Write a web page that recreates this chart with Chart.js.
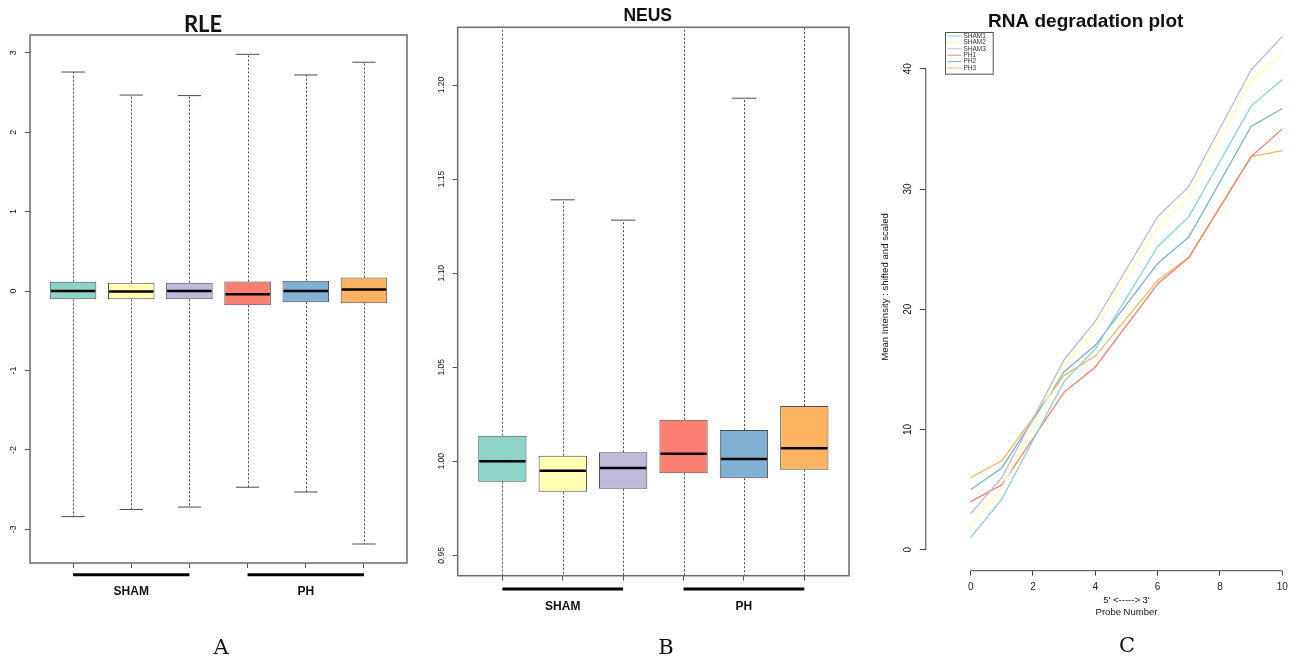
<!DOCTYPE html>
<html>
<head>
<meta charset="utf-8">
<title>RLE / NEUS / RNA degradation plot</title>
<script src="https://cdn.jsdelivr.net/npm/chart.js@4.4.0/dist/chart.umd.min.js"></script>
<style>
  body { margin: 0; background: #fff; }
  #wrap { position: relative; width: 1298px; height: 661px; overflow: hidden; background: #fff; }
  #wrap canvas { position: absolute; top: 0; }
</style>
</head>
<body>
<div id="wrap">
  <canvas id="rleChart" width="430" height="661" style="left:0"></canvas>
  <canvas id="neusChart" width="430" height="661" style="left:430px"></canvas>
  <canvas id="degChart" width="438" height="661" style="left:860px"></canvas>
</div>
<script>
// ---- data ----
const samples = ['SHAM1', 'SHAM2', 'SHAM3', 'PH1', 'PH2', 'PH3'];
const samplePos = [1, 2, 3, 4, 5, 6];
const sampleColors = ['#8DD3C7', '#FFFFB3', '#BEBADA', '#FB8072', '#80B1D3', '#FDB462'];
const groups = ['SHAM', 'PH'];
const groupSpans = [[1, 3], [4, 6]];

// RLE boxplot
const rleMin = [-2.84, -2.75, -2.72, -2.47, -2.53, -3.185];
const rleQ1 = [-0.105, -0.105, -0.105, -0.18, -0.14, -0.155];
const rleMed = [0.0, -0.005, 0.0, -0.04, 0.0, 0.02];
const rleQ3 = [0.117, 0.105, 0.105, 0.12, 0.13, 0.17];
const rleMax = [2.757, 2.467, 2.46, 2.98, 2.72, 2.88];
const rleTicks = [-3, -2, -1, 0, 1, 2, 3];
const rleTickLabels = ['-3', '-2', '-1', '0', '1', '2', '3'];

// NEUS boxplot (some whiskers run off the plot)
const neusMin = [0.93, 0.925, 0.928, 0.932, 0.93, 0.935];
const neusQ1 = [0.9892, 0.9838, 0.9854, 0.9936, 0.991, 0.9955];
const neusMed = [1.0, 0.995, 0.9964, 1.004, 1.0012, 1.007];
const neusQ3 = [1.0136, 1.003, 1.0048, 1.0221, 1.0166, 1.0294];
const neusMax = [1.24, 1.139, 1.1282, 1.25, 1.193, 1.26];
const neusTicks = [0.95, 1.0, 1.05, 1.1, 1.15, 1.2];
const neusTickLabels = ['0.95', '1.00', '1.05', '1.10', '1.15', '1.20'];

// RNA degradation
const probeNumber = [0, 1, 3, 4, 6, 7, 9, 10];
const sham1Deg = [1.0, 4.2, 14.0, 16.7, 25.2, 27.7, 36.9, 39.1];
const sham2Deg = [2.0, 5.2, 15.3, 18.4, 26.8, 29.3, 39.0, 41.3];
const sham3Deg = [3.0, 6.0, 15.8, 19.0, 27.7, 30.2, 39.9, 42.7];
const ph1Deg = [4.0, 5.4, 13.1, 15.2, 22.1, 24.3, 32.7, 35.0];
const ph2Deg = [5.0, 6.8, 14.8, 17.0, 23.8, 26.0, 35.2, 36.7];
const ph3Deg = [6.0, 7.4, 14.5, 16.1, 22.4, 24.3, 32.7, 33.2];
const degXTicks = [0, 2, 4, 6, 8, 10];
const degXTickLabels = ['0', '2', '4', '6', '8', '10'];
const degYTicks = [0, 10, 20, 30, 40];
const degYTickLabels = ['0', '10', '20', '30', '40'];

// ---- helpers ----
const SANS = '"Liberation Sans", Arial, Helvetica, sans-serif';
const SERIF = '"DejaVu Serif", "Liberation Serif", serif';
Chart.defaults.font.family = SANS;
Chart.defaults.color = '#222';

function strokeLine(ctx, x1, y1, x2, y2) {
    ctx.beginPath();
    ctx.moveTo(x1, y1);
    ctx.lineTo(x2, y2);
    ctx.stroke();
}

function putText(ctx, text, x, y, font, rotate) {
    ctx.save();
    ctx.font = font;
    ctx.fillStyle = '#111';
    ctx.textAlign = 'center';
    ctx.textBaseline = rotate ? 'middle' : 'alphabetic';
    ctx.translate(x, y);
    if (rotate) ctx.rotate(-Math.PI / 2);
    ctx.fillText(text, 0, 0);
    ctx.restore();
}

// R style y labels, turned parallel to the axis
function drawYTickLabels(chart, labels, xPos, font) {
    const y = chart.scales.y;
    y.ticks.forEach((t, i) => putText(chart.ctx, labels[i], xPos, y.getPixelForValue(t.value), font, true));
}

function fixedTicks(values) {
    return axis => { axis.ticks = values.map(v => ({value: v})); };
}

// free text: titles, panel letters, axis titles
const panelText = {
    id: 'panelText',
    afterDraw(chart, args, o) {
        (o.items || []).forEach(it => putText(chart.ctx, it.text, it.x, it.y, it.font, it.rotate));
    }
};

// whiskers, caps, medians, frame and group bars for the boxplots
const boxplotParts = {
    id: 'boxplotParts',
    afterDatasetsDraw(chart, args, o) {
        if (!o.max) return;
        const {ctx, chartArea: a, scales: {x, y}} = chart;
        const bars = chart.getDatasetMeta(0).data;

        ctx.save();
        ctx.beginPath();
        ctx.rect(a.left, a.top, a.right - a.left, a.bottom - a.top);
        ctx.clip();
        bars.forEach((bar, i) => {
            const cx = Math.round(bar.x) + 0.5;
            const yHi = y.getPixelForValue(o.max[i]);
            const yLo = y.getPixelForValue(o.min[i]);
            const yQ3 = y.getPixelForValue(o.q3[i]);
            const yQ1 = y.getPixelForValue(o.q1[i]);
            ctx.strokeStyle = '#4d4d4d';
            ctx.lineWidth = 1;
            ctx.setLineDash([2, 2]);
            strokeLine(ctx, cx, yQ3, cx, yHi);
            strokeLine(ctx, cx, yQ1, cx, yLo);
            ctx.setLineDash([]);
            const cap = bar.width / 4;
            strokeLine(ctx, bar.x - cap, yHi, bar.x + cap, yHi);
            strokeLine(ctx, bar.x - cap, yLo, bar.x + cap, yLo);
            const ym = y.getPixelForValue(o.med[i]);
            ctx.strokeStyle = '#000';
            ctx.lineWidth = 2.5;
            strokeLine(ctx, bar.x - bar.width / 2 + 1, ym, bar.x + bar.width / 2 - 1, ym);
        });
        ctx.restore();

        ctx.save();
        ctx.strokeStyle = '#6b6b6b';
        ctx.lineWidth = 1.5;
        ctx.strokeRect(a.left, a.top, a.right - a.left, a.bottom - a.top);

        ctx.strokeStyle = '#000';
        ctx.lineWidth = 3;
        groupSpans.forEach((span, g) => {
            const x1 = x.getPixelForValue(span[0]);
            const x2 = x.getPixelForValue(span[1]);
            strokeLine(ctx, x1, o.groupBarY, x2, o.groupBarY);
            putText(ctx, groups[g], (x1 + x2) / 2, o.groupLabelY, 'bold 12px ' + SANS);
        });
        ctx.restore();

        drawYTickLabels(chart, o.tickLabels, o.tickLabelX, o.tickFont);
    }
};

function boxplotConfig(q1, q3, min, med, max, yMin, yMax, ticks, tickLabels, pad, extra) {
    return {
        type: 'bar',
        data: {
            datasets: [{
                data: samplePos.map((p, i) => ({x: p, y: [q1[i], q3[i]]})),
                backgroundColor: sampleColors,
                borderColor: '#4d4d4d',
                borderWidth: 1,
                borderSkipped: false,
                barPercentage: 0.8,
                categoryPercentage: 1
            }]
        },
        options: {
            responsive: false,
            animation: false,
            events: [],
            layout: {padding: pad},
            plugins: {
                legend: {display: false},
                tooltip: {enabled: false},
                boxplotParts: Object.assign({min, med, max, q1, q3, tickLabels}, extra.box),
                panelText: {items: extra.text}
            },
            scales: {
                x: {
                    type: 'linear',
                    min: 0.26,
                    max: 6.74,
                    offset: false,
                    afterBuildTicks: fixedTicks(samplePos),
                    ticks: {display: false},
                    grid: {offset: false, drawOnChartArea: false, tickLength: 5, color: '#555'},
                    border: {display: false},
                    afterFit: s => { s.height = 5; }
                },
                y: {
                    min: yMin,
                    max: yMax,
                    afterBuildTicks: fixedTicks(ticks),
                    ticks: {display: false},
                    grid: {drawOnChartArea: false, tickLength: 5, color: '#555'},
                    border: {display: false},
                    afterFit: s => { s.width = 5; }
                }
            }
        },
        plugins: [boxplotParts, panelText]
    };
}

// A: RLE
new Chart(document.getElementById('rleChart'), boxplotConfig(
    rleQ1, rleQ3, rleMin, rleMed, rleMax, -3.424, 3.223, rleTicks, rleTickLabels,
    {left: 25, right: 23, top: 35, bottom: 93},
    {
        box: {tickLabelX: 14, tickFont: '9px ' + SANS, groupBarY: 574.7, groupLabelY: 595.3},
        text: [
            {text: 'RLE', x: 203, y: 32.3, font: 'bold 22px Lato, "Open Sans", ' + SANS},
            {text: 'A', x: 221, y: 653.5, font: '21px ' + SERIF}
        ]
    }
));

// B: NEUS
new Chart(document.getElementById('neusChart'), boxplotConfig(
    neusQ1, neusQ3, neusMin, neusMed, neusMax, 0.9392, 1.2307, neusTicks, neusTickLabels,
    {left: 22.7, right: 11, top: 27.3, bottom: 80.3},
    {
        box: {tickLabelX: 11.7, tickFont: '8.5px ' + SANS, groupBarY: 589, groupLabelY: 610},
        text: [
            {text: 'NEUS', x: 217.7, y: 20.7, font: 'bold 17.5px ' + SANS},
            {text: 'B', x: 236, y: 653.5, font: '21px ' + SERIF}
        ]
    }
));

// C: RNA degradation plot
const degSeries = [sham1Deg, sham2Deg, sham3Deg, ph1Deg, ph2Deg, ph3Deg];

const degParts = {
    id: 'degParts',
    afterDraw(chart) {
        const {ctx, chartArea: a, scales: {x, y}} = chart;
        ctx.save();
        ctx.strokeStyle = '#444';
        ctx.lineWidth = 1;
        // axis lines only span first to last tick, as R draws them
        strokeLine(ctx, a.left, y.getPixelForValue(degYTicks[0]), a.left, y.getPixelForValue(degYTicks[degYTicks.length - 1]));
        strokeLine(ctx, x.getPixelForValue(degXTicks[0]), a.bottom, x.getPixelForValue(degXTicks[degXTicks.length - 1]), a.bottom);

        // legend box
        const lx = 85, ly = 32, lw = 47.7, lh = 41.7, step = 6.4;
        ctx.fillStyle = '#fff';
        ctx.fillRect(lx, ly, lw, lh);
        ctx.strokeStyle = '#555';
        ctx.strokeRect(lx + 0.5, ly + 0.5, lw, lh);
        ctx.font = '6.5px ' + SANS;
        ctx.textAlign = 'left';
        ctx.textBaseline = 'middle';
        chart.data.datasets.forEach((ds, i) => {
            const yy = ly + 4 + step * i;
            ctx.strokeStyle = ds.borderColor;
            strokeLine(ctx, lx + 2.5, yy, lx + 16.5, yy);
            ctx.fillStyle = '#333';
            ctx.fillText(ds.label, lx + 18.5, yy);
        });
        ctx.restore();

        const mid = x.getPixelForValue(5);
        putText(ctx, "5' <-----> 3'", mid, 602.5, '9.5px ' + SANS);
        putText(ctx, 'Probe Number', mid, 615, '9.5px ' + SANS);
        drawYTickLabels(chart, degYTickLabels, 48.7, '10px ' + SANS);
    }
};

new Chart(document.getElementById('degChart'), {
    type: 'line',
    data: {
        datasets: samples.map((s, i) => ({
            label: s,
            data: probeNumber.map((p, j) => ({x: p, y: degSeries[i][j]})),
            borderColor: sampleColors[i],
            borderWidth: 1.3,
            pointRadius: 0,
            tension: 0,
            fill: false
        }))
    },
    options: {
        responsive: false,
        animation: false,
        events: [],
        layout: {padding: {left: 59.8, right: 2, top: 15.3, bottom: 60.3}},
        plugins: {
            legend: {display: false},
            tooltip: {enabled: false},
            panelText: {
                items: [
                    {text: 'RNA degradation plot', x: 225.7, y: 27.3, font: 'bold 19px ' + SANS},
                    {text: 'Mean Intensity : shifted and scaled', x: 25, y: 287, font: '9.6px ' + SANS, rotate: true},
                    {text: 'C', x: 267, y: 652, font: '21px ' + SERIF}
                ]
            }
        },
        scales: {
            x: {
                type: 'linear',
                min: -1.44,
                max: 10.44,
                afterBuildTicks: fixedTicks(degXTicks),
                ticks: {
                    font: {size: 10},
                    color: '#222',
                    padding: 5.5,
                    maxRotation: 0,
                    autoSkip: false,
                    callback: (v, i) => degXTickLabels[i]
                },
                grid: {drawOnChartArea: false, tickLength: 5, color: '#444'},
                border: {display: false},
                afterFit: s => { s.height = 30; }
            },
            y: {
                min: -1.75,
                max: 44.45,
                afterBuildTicks: fixedTicks(degYTicks),
                ticks: {display: false},
                grid: {drawOnChartArea: false, tickLength: 6, color: '#444'},
                border: {display: false},
                afterFit: s => { s.width = 6; }
            }
        }
    },
    plugins: [degParts, panelText]
});
</script>
</body>
</html>
